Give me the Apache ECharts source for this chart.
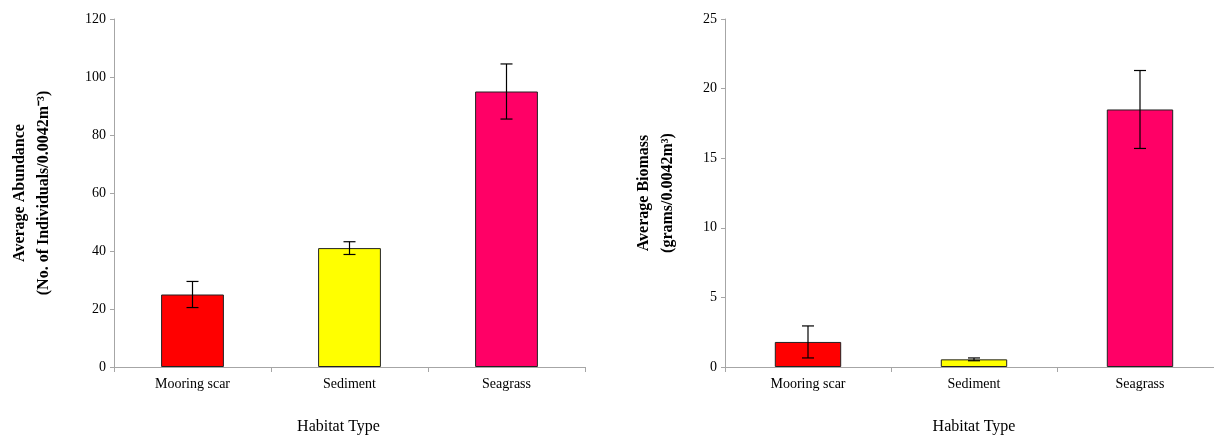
<!DOCTYPE html>
<html>
<head>
<meta charset="utf-8">
<script src="https://cdn.jsdelivr.net/npm/echarts@6/dist/echarts.min.js"></script>
<style>
  html, body { margin: 0; padding: 0; background: #fff; }
  #chart { width: 1214px; height: 435px; }
</style>
</head>
<body>
<div id="chart"></div>
<script>
const categories = ['Mooring scar', 'Sediment', 'Seagrass'];
const abundance = [25, 41, 95];
const abundanceErr = [4.5, 2.2, 9.5];
const biomass = [1.8, 0.55, 18.5];
const biomassErr = [1.15, 0.1, 2.8];
const abundanceTicks = { min: 0, max: 120, interval: 20 };
const biomassTicks = { min: 0, max: 25, interval: 5 };
const barColors = ['#ff0000', '#ffff00', '#ff0066'];

const chartDom = document.getElementById('chart');
const myChart = echarts.init(chartDom);

const font = 'Liberation Serif';
const axisGray = '#a6a6a6';

function errData(vals, errs) {
    return vals.map((v, i) => [i, v - errs[i], v + errs[i]]);
}

function errorSeries(idx, vals, errs) {
    return {
        type: 'custom',
        xAxisIndex: idx,
        yAxisIndex: idx,
        z: 10,
        silent: true,
        data: errData(vals, errs),
        renderItem(params, api) {
            const lo = api.coord([api.value(0), api.value(1)]);
            const hi = api.coord([api.value(0), api.value(2)]);
            const w = 6;
            const style = { stroke: '#000', lineWidth: 1.2 };
            return {
                type: 'group',
                children: [
                    { type: 'line', shape: { x1: hi[0], y1: hi[1], x2: lo[0], y2: lo[1] }, style },
                    { type: 'line', shape: { x1: hi[0] - w, y1: hi[1], x2: hi[0] + w, y2: hi[1] }, style },
                    { type: 'line', shape: { x1: lo[0] - w, y1: lo[1], x2: lo[0] + w, y2: lo[1] }, style }
                ]
            };
        }
    };
}

function xAxisCfg(idx, shift) {
    return {
        type: 'category',
        gridIndex: idx,
        data: categories,
        axisLine: { lineStyle: { color: axisGray, width: 1 } },
        axisTick: { show: true, length: 5, lineStyle: { color: axisGray } },
        axisLabel: { color: '#000', fontFamily: font, fontSize: 14, margin: 10 },
        name: 'Habitat Type',
        nameLocation: 'middle',
        nameGap: 52,
        nameTextStyle: { color: '#000', fontFamily: font, fontSize: 16, padding: [0, shift, 0, 0] }
    };
}

function yAxisCfg(idx, ticks, name, gap) {
    return {
        type: 'value',
        gridIndex: idx,
        min: ticks.min,
        max: ticks.max,
        interval: ticks.interval,
        axisLine: { show: true, lineStyle: { color: axisGray, width: 1 } },
        axisTick: { show: true, length: 4, lineStyle: { color: axisGray } },
        splitLine: { show: false },
        axisLabel: { color: '#000', fontFamily: font, fontSize: 14, margin: 8 },
        name: name,
        nameLocation: 'middle',
        nameRotate: 90,
        nameGap: gap,
        nameTextStyle: { color: '#000', fontFamily: font, fontSize: 16, fontWeight: 'bold', lineHeight: 24 }
    };
}

function barSeries(idx, vals) {
    return {
        type: 'bar',
        xAxisIndex: idx,
        yAxisIndex: idx,
        barWidth: '40%',
        data: vals.map((v, i) => ({
            value: v,
            itemStyle: { color: barColors[i], borderColor: '#222', borderWidth: 1 }
        }))
    };
}

const option = {
    backgroundColor: '#fff',
    animation: false,
    grid: [
        { left: 114, top: 19, width: 471, height: 348, outerBoundsMode: 'none', containLabel: false },
        { left: 725, top: 19, width: 498, height: 348, outerBoundsMode: 'none', containLabel: false }
    ],
    xAxis: [xAxisCfg(0, 22), xAxisCfg(1, 0)],
    yAxis: [
        yAxisCfg(0, abundanceTicks, 'Average Abundance\n(No. of Individuals/0.0042m⁻³)', 58),
        yAxisCfg(1, biomassTicks, 'Average Biomass\n(grams/0.0042m³)', 45)
    ],
    series: [
        barSeries(0, abundance),
        errorSeries(0, abundance, abundanceErr),
        barSeries(1, biomass),
        errorSeries(1, biomass, biomassErr)
    ]
};

myChart.setOption(option);
window.addEventListener('resize', () => myChart.resize());
</script>
</body>
</html>
